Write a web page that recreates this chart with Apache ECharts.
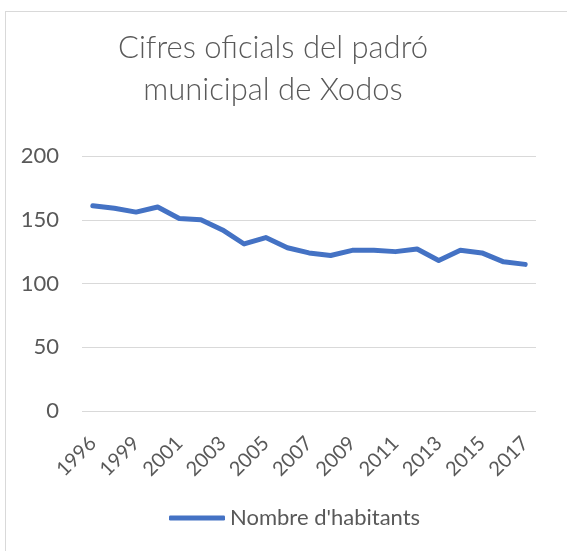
<!DOCTYPE html>
<html>
<head>
<meta charset="utf-8">
<script src="https://cdn.jsdelivr.net/npm/echarts@6/dist/echarts.min.js"></script>
<style>
	html, body { margin: 0; padding: 0; background: #fff; overflow: hidden; }
	#frame { position: absolute; left: 5px; top: 11px; width: 700px; height: 700px; border: 1px solid #d9d9d9; box-sizing: border-box; }
	#chart { position: absolute; left: 0; top: 0; width: 567px; height: 551px; }
</style>
</head>
<body>
<div id="frame"></div>
<div id="chart"></div>
<script>
'use strict';
// anys del padró (1997 no n'hi ha)
var years = ['1996', '1998', '1999', '2000', '2001', '2002', '2003', '2004', '2005', '2006', '2007',
	'2008', '2009', '2010', '2011', '2012', '2013', '2014', '2015', '2016', '2017'];
var habitants = [161, 159, 156, 160, 151, 150, 142, 131, 136, 128, 124,
	122, 126, 126, 125, 127, 118, 126, 124, 117, 115];
var yTicks = [0, 50, 100, 150, 200];
var seriesName = "Nombre d'habitants";

var textColor = '#595959';
var fontName = 'Lato';

var chart = echarts.init(document.getElementById('chart'));
var option = {
	animation: false,
	title: {
		text: 'Cifres oficials del padró\nmunicipal de Xodos',
		left: 268,
		top: 22,
		textAlign: 'center',
		textStyle: {
			color: textColor,
			fontFamily: fontName,
			fontSize: 31,
			fontWeight: 300,
			lineHeight: 42
		}
	},
	legend: {
		data: [seriesName],
		bottom: 17,
		left: 164,
		icon: 'roundRect',
		itemWidth: 56,
		itemHeight: 5,
		itemGap: 4,
		textStyle: { color: textColor, fontFamily: fontName, fontSize: 22 }
	},
	grid: { left: 82, right: 31, top: 156, bottom: 140 },
	xAxis: {
		type: 'category',
		data: years,
		axisLine: { show: false },
		axisTick: { show: false },
		axisLabel: {
			interval: 1,
			rotate: 45,
			margin: 29,
			color: textColor,
			fontFamily: fontName,
			fontSize: 20
		}
	},
	yAxis: {
		type: 'value',
		min: yTicks[0],
		max: yTicks[yTicks.length - 1],
		interval: 50,
		axisLine: { show: false },
		axisTick: { show: false },
		axisLabel: { margin: 23, color: textColor, fontFamily: fontName, fontSize: 22 },
		splitLine: { lineStyle: { color: '#d9d9d9', width: 1 } }
	},
	series: [{
		name: seriesName,
		type: 'line',
		data: habitants,
		symbol: 'none',
		lineStyle: { color: '#4472c4', width: 5, cap: 'round', join: 'round' },
		itemStyle: { color: '#4472c4' }
	}]
};
chart.setOption(option);
</script>
</body>
</html>
